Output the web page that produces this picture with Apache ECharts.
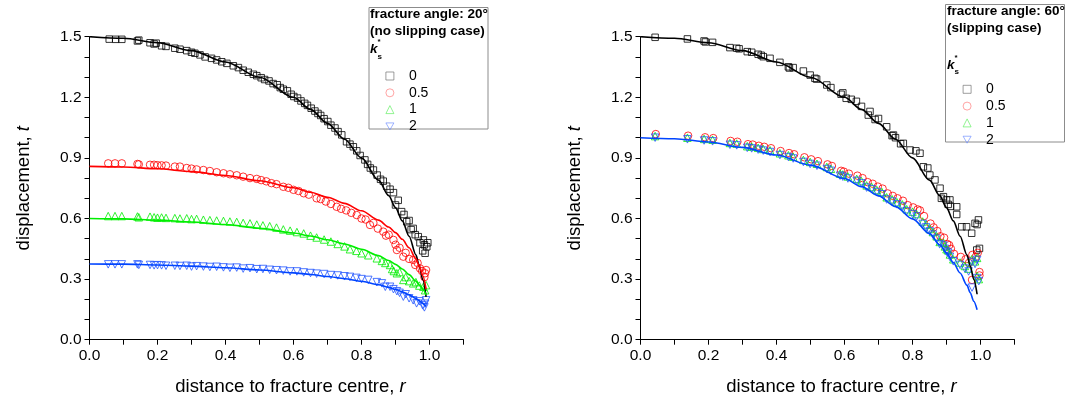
<!DOCTYPE html>
<html>
<head>
<meta charset="utf-8">
<script src="https://cdn.jsdelivr.net/npm/echarts@6/dist/echarts.min.js"></script>
<style>
  html, body { margin: 0; padding: 0; background: #fff; }
  #chart { width: 1079px; height: 404px; }
</style>
</head>
<body>
<div id="chart"></div>
<script>
// ---- data: [r, t] ----
var ksNames = ['0', '0.5', '1', '2'];
var xTicks = [0, 0.2, 0.4, 0.6, 0.8, 1.0];
var yTicks = [0, 0.3, 0.6, 0.9, 1.2, 1.5];

// left panel, fracture angle 20 deg
var leftK0 = [[0.058,1.488],[0.077,1.487],[0.095,1.487],[0.141,1.479],[0.145,1.483],[0.178,1.470],[0.190,1.464],[0.196,1.468],[0.212,1.455],[0.225,1.452],[0.251,1.443],[0.266,1.438],[0.286,1.431],[0.300,1.423],[0.310,1.418],[0.325,1.410],[0.340,1.400],[0.359,1.393],[0.374,1.385],[0.389,1.376],[0.404,1.368],[0.423,1.356],[0.438,1.347],[0.452,1.334],[0.467,1.324],[0.482,1.314],[0.492,1.307],[0.505,1.297],[0.515,1.288],[0.528,1.281],[0.540,1.268],[0.552,1.262],[0.561,1.248],[0.570,1.240],[0.582,1.232],[0.593,1.215],[0.601,1.204],[0.612,1.196],[0.622,1.182],[0.633,1.170],[0.641,1.160],[0.652,1.146],[0.663,1.132],[0.672,1.120],[0.680,1.110],[0.690,1.094],[0.701,1.080],[0.710,1.062],[0.722,1.048],[0.731,1.030],[0.742,1.014],[0.756,0.980],[0.766,0.968],[0.776,0.955],[0.786,0.935],[0.796,0.912],[0.810,0.890],[0.818,0.868],[0.826,0.850],[0.835,0.840],[0.846,0.815],[0.856,0.794],[0.864,0.785],[0.874,0.760],[0.884,0.745],[0.894,0.728],[0.900,0.667],[0.908,0.690],[0.918,0.634],[0.925,0.620],[0.933,0.584],[0.940,0.590],[0.946,0.545],[0.952,0.551],[0.958,0.520],[0.967,0.510],[0.972,0.480],[0.982,0.494],[0.985,0.470],[0.992,0.460],[0.987,0.428],[0.980,0.440],[0.995,0.480]];
var leftK05 = [[0.055,0.873],[0.075,0.873],[0.095,0.873],[0.141,0.870],[0.145,0.868],[0.178,0.866],[0.190,0.866],[0.200,0.864],[0.212,0.863],[0.225,0.862],[0.251,0.857],[0.266,0.857],[0.286,0.850],[0.300,0.847],[0.315,0.843],[0.335,0.840],[0.354,0.835],[0.374,0.829],[0.394,0.824],[0.413,0.819],[0.433,0.814],[0.452,0.807],[0.472,0.800],[0.492,0.796],[0.505,0.790],[0.520,0.784],[0.535,0.775],[0.550,0.770],[0.570,0.757],[0.585,0.752],[0.600,0.742],[0.615,0.736],[0.630,0.725],[0.645,0.718],[0.668,0.700],[0.680,0.696],[0.695,0.684],[0.710,0.672],[0.727,0.658],[0.740,0.648],[0.755,0.640],[0.770,0.628],[0.786,0.617],[0.800,0.600],[0.812,0.595],[0.825,0.568],[0.835,0.578],[0.848,0.550],[0.864,0.535],[0.872,0.515],[0.880,0.520],[0.894,0.494],[0.900,0.470],[0.904,0.444],[0.912,0.455],[0.923,0.411],[0.930,0.430],[0.940,0.400],[0.952,0.395],[0.958,0.370],[0.965,0.380],[0.972,0.353],[0.978,0.340],[0.987,0.329],[0.990,0.345],[0.985,0.310]];
var leftK1 = [[0.055,0.612],[0.075,0.612],[0.095,0.612],[0.141,0.610],[0.145,0.606],[0.178,0.609],[0.190,0.606],[0.200,0.604],[0.212,0.605],[0.225,0.603],[0.251,0.602],[0.266,0.600],[0.286,0.601],[0.300,0.597],[0.315,0.598],[0.335,0.594],[0.354,0.592],[0.374,0.590],[0.394,0.588],[0.413,0.585],[0.433,0.583],[0.452,0.578],[0.472,0.576],[0.492,0.570],[0.510,0.566],[0.530,0.562],[0.550,0.555],[0.570,0.546],[0.590,0.540],[0.610,0.533],[0.630,0.526],[0.650,0.515],[0.668,0.506],[0.690,0.496],[0.710,0.486],[0.730,0.474],[0.750,0.462],[0.766,0.448],[0.785,0.440],[0.800,0.428],[0.820,0.418],[0.845,0.403],[0.860,0.390],[0.870,0.380],[0.884,0.370],[0.890,0.350],[0.895,0.340],[0.904,0.329],[0.912,0.335],[0.923,0.296],[0.930,0.310],[0.940,0.290],[0.952,0.279],[0.960,0.285],[0.970,0.268],[0.982,0.262],[0.987,0.245],[0.990,0.270]];
var leftK2 = [[0.055,0.373],[0.075,0.373],[0.095,0.373],[0.141,0.373],[0.145,0.370],[0.178,0.370],[0.190,0.368],[0.200,0.369],[0.212,0.368],[0.225,0.366],[0.251,0.366],[0.266,0.365],[0.286,0.366],[0.300,0.362],[0.315,0.364],[0.335,0.362],[0.354,0.360],[0.374,0.361],[0.394,0.358],[0.413,0.356],[0.433,0.357],[0.452,0.352],[0.472,0.354],[0.492,0.349],[0.510,0.350],[0.530,0.346],[0.550,0.344],[0.570,0.342],[0.590,0.338],[0.610,0.338],[0.630,0.333],[0.650,0.330],[0.668,0.327],[0.690,0.325],[0.710,0.320],[0.730,0.318],[0.750,0.314],[0.766,0.311],[0.785,0.306],[0.800,0.300],[0.820,0.296],[0.845,0.285],[0.860,0.279],[0.870,0.262],[0.884,0.262],[0.894,0.250],[0.904,0.240],[0.912,0.232],[0.923,0.213],[0.930,0.225],[0.940,0.205],[0.952,0.195],[0.962,0.180],[0.970,0.190],[0.980,0.170],[0.987,0.178],[0.990,0.195],[0.985,0.160]];

var leftFit0 = [[0,1.5],[0.1,1.492],[0.2,1.470],[0.3,1.431],[0.4,1.375],[0.5,1.299],[0.6,1.200],[0.65,1.140],[0.7,1.071],[0.75,0.992],[0.8,0.900],[0.85,0.790],[0.88,0.713],[0.9,0.654],[0.92,0.588],[0.94,0.512],[0.96,0.420],[0.97,0.365],[0.98,0.298],[0.99,0.212]];
var leftFit05 = [[0,0.858],[0.1,0.855],[0.2,0.846],[0.3,0.832],[0.4,0.813],[0.5,0.787],[0.6,0.752],[0.65,0.730],[0.7,0.705],[0.75,0.675],[0.8,0.638],[0.85,0.592],[0.88,0.558],[0.9,0.530],[0.92,0.497],[0.94,0.455],[0.96,0.400],[0.97,0.365],[0.98,0.318],[0.99,0.250]];
var leftFit1 = [[0,0.600],[0.1,0.598],[0.2,0.592],[0.3,0.583],[0.4,0.570],[0.5,0.552],[0.6,0.528],[0.65,0.513],[0.7,0.495],[0.75,0.474],[0.8,0.448],[0.85,0.416],[0.88,0.392],[0.9,0.373],[0.92,0.350],[0.94,0.322],[0.96,0.290],[0.97,0.270],[0.98,0.250],[0.99,0.222]];
var leftFit2 = [[0,0.375],[0.1,0.374],[0.2,0.370],[0.3,0.364],[0.4,0.356],[0.5,0.345],[0.6,0.331],[0.65,0.323],[0.7,0.313],[0.75,0.302],[0.8,0.289],[0.85,0.272],[0.88,0.259],[0.9,0.249],[0.92,0.237],[0.94,0.222],[0.96,0.204],[0.97,0.193],[0.98,0.180],[0.99,0.165]];

// right panel, fracture angle 60 deg
var rightK0 = [[0.043,1.497],[0.138,1.489],[0.187,1.479],[0.191,1.474],[0.212,1.472],[0.263,1.446],[0.283,1.443],[0.290,1.440],[0.314,1.426],[0.327,1.423],[0.346,1.413],[0.355,1.408],[0.361,1.401],[0.381,1.393],[0.410,1.373],[0.435,1.351],[0.438,1.345],[0.449,1.347],[0.479,1.330],[0.499,1.310],[0.513,1.294],[0.518,1.290],[0.548,1.261],[0.560,1.248],[0.590,1.215],[0.595,1.222],[0.605,1.195],[0.620,1.190],[0.635,1.180],[0.650,1.155],[0.670,1.112],[0.675,1.130],[0.690,1.090],[0.700,1.095],[0.724,1.054],[0.740,1.010],[0.744,1.013],[0.750,1.000],[0.765,0.970],[0.773,0.972],[0.793,0.939],[0.810,0.935],[0.822,0.923],[0.832,0.856],[0.845,0.850],[0.851,0.815],[0.866,0.791],[0.881,0.750],[0.885,0.700],[0.891,0.708],[0.900,0.692],[0.905,0.670],[0.910,0.692],[0.912,0.660],[0.930,0.658],[0.930,0.620],[0.945,0.559],[0.959,0.559],[0.974,0.527],[0.984,0.576],[0.994,0.593],[0.990,0.570],[0.989,0.444],[0.997,0.452]];
var rightK05 = [[0.045,1.018],[0.140,1.010],[0.190,1.002],[0.214,0.998],[0.265,0.984],[0.285,0.980],[0.316,0.968],[0.330,0.966],[0.348,0.960],[0.364,0.955],[0.384,0.948],[0.412,0.934],[0.437,0.924],[0.452,0.918],[0.482,0.903],[0.502,0.893],[0.522,0.884],[0.550,0.868],[0.563,0.860],[0.590,0.836],[0.598,0.832],[0.613,0.822],[0.638,0.812],[0.653,0.800],[0.668,0.780],[0.683,0.772],[0.698,0.758],[0.712,0.748],[0.727,0.724],[0.742,0.712],[0.756,0.700],[0.772,0.688],[0.786,0.666],[0.802,0.655],[0.815,0.645],[0.822,0.640],[0.834,0.612],[0.853,0.575],[0.862,0.556],[0.873,0.538],[0.882,0.512],[0.893,0.505],[0.902,0.474],[0.908,0.468],[0.913,0.450],[0.922,0.425],[0.942,0.410],[0.956,0.398],[0.966,0.380],[0.976,0.420],[0.986,0.410],[0.992,0.430],[0.997,0.335],[0.997,0.318],[0.975,0.296]];
var rightK1 = [[0.043,1.008],[0.138,1.000],[0.187,0.994],[0.212,0.990],[0.263,0.974],[0.283,0.971],[0.314,0.958],[0.327,0.956],[0.346,0.950],[0.361,0.944],[0.381,0.938],[0.410,0.923],[0.435,0.913],[0.449,0.906],[0.479,0.890],[0.499,0.880],[0.519,0.871],[0.548,0.855],[0.560,0.846],[0.587,0.822],[0.595,0.818],[0.610,0.808],[0.636,0.796],[0.650,0.785],[0.665,0.764],[0.680,0.756],[0.695,0.741],[0.710,0.731],[0.724,0.705],[0.740,0.695],[0.754,0.681],[0.770,0.670],[0.783,0.646],[0.800,0.634],[0.812,0.622],[0.830,0.585],[0.840,0.570],[0.851,0.548],[0.860,0.533],[0.871,0.512],[0.880,0.484],[0.891,0.480],[0.895,0.462],[0.900,0.448],[0.905,0.442],[0.910,0.422],[0.920,0.398],[0.940,0.382],[0.954,0.365],[0.965,0.352],[0.974,0.398],[0.984,0.388],[0.990,0.405],[0.995,0.300],[0.990,0.315]];
var rightK2 = [[0.043,1.000],[0.138,0.992],[0.187,0.986],[0.212,0.982],[0.263,0.965],[0.283,0.962],[0.314,0.950],[0.327,0.947],[0.346,0.941],[0.361,0.936],[0.381,0.929],[0.410,0.914],[0.435,0.904],[0.449,0.897],[0.479,0.880],[0.499,0.870],[0.519,0.861],[0.548,0.845],[0.560,0.836],[0.587,0.812],[0.595,0.807],[0.610,0.798],[0.636,0.786],[0.650,0.774],[0.665,0.753],[0.680,0.745],[0.695,0.731],[0.710,0.720],[0.724,0.694],[0.740,0.684],[0.754,0.670],[0.770,0.659],[0.783,0.635],[0.800,0.622],[0.812,0.610],[0.830,0.573],[0.840,0.556],[0.851,0.536],[0.860,0.520],[0.871,0.500],[0.880,0.472],[0.891,0.466],[0.895,0.450],[0.900,0.436],[0.905,0.430],[0.910,0.410],[0.920,0.388],[0.940,0.370],[0.954,0.352],[0.965,0.338],[0.975,0.258],[0.974,0.385],[0.984,0.375],[0.990,0.395],[0.995,0.290],[0.990,0.305]];

var rightFit0 = [[0,1.5],[0.1,1.492],[0.2,1.470],[0.3,1.431],[0.4,1.375],[0.5,1.299],[0.6,1.200],[0.65,1.140],[0.7,1.071],[0.75,0.992],[0.8,0.900],[0.85,0.790],[0.88,0.713],[0.9,0.654],[0.92,0.588],[0.94,0.512],[0.96,0.420],[0.97,0.365],[0.98,0.300],[0.99,0.225]];
var rightFit2 = [[0,1.0],[0.1,0.995],[0.2,0.979],[0.3,0.952],[0.4,0.914],[0.5,0.864],[0.6,0.798],[0.65,0.758],[0.7,0.712],[0.75,0.659],[0.8,0.598],[0.85,0.525],[0.88,0.470],[0.9,0.430],[0.92,0.382],[0.94,0.330],[0.96,0.270],[0.97,0.232],[0.98,0.190],[0.99,0.148]];

// ---- styles ----
var FONT = '"Liberation Sans", Arial, sans-serif';
var colors = { '0': '#000000', '0.5': '#ff0000', '1': '#00ee00', '2': '#2255ff' };
var legendColors = { '0': '#666666', '0.5': '#ff7070', '1': '#55ee55', '2': '#6688ff' };
var lineColors = { '0': '#000000', '0.5': '#ff0000', '1': '#00ee00', '2': '#0044ff' };
var symbols = { '0': 'rect', '0.5': 'circle', '1': 'triangle', '2': 'path://M0,0L10,0L5,8.7Z' };
var sizes = { '0': 6.5, '0.5': 7.5, '1': 7.5, '2': 7.5 };

function scatter(name, data, idx) {
    return {
        name: name, type: 'scatter', xAxisIndex: idx, yAxisIndex: idx,
        data: data, symbol: symbols[name], symbolSize: sizes[name],
        itemStyle: { color: 'rgba(0,0,0,0)', borderColor: colors[name], borderWidth: 1 },
        silent: true
    };
}
function fit(name, data, idx) {
    return {
        name: 'fit ' + name, type: 'line', xAxisIndex: idx, yAxisIndex: idx,
        data: data, showSymbol: false, smooth: 0.3, smoothMonotone: 'x',
        lineStyle: { color: lineColors[name], width: 1.6 }, silent: true, z: 3
    };
}

function xAxis(idx) {
    return {
        type: 'value', gridIndex: idx, min: 0, max: 1.1, interval: 0.1,
        axisLine: { onZero: false, lineStyle: { color: '#000', width: 1 } },
        axisTick: { length: 5, lineStyle: { color: '#000' } },
        splitLine: { show: false },
        axisLabel: {
            color: '#000', fontSize: 15.5, fontFamily: FONT, margin: 8,
            formatter: function (v) {
                var k = Math.round(v * 10);
                return xTicks.indexOf(k / 10) >= 0 ? (k / 10).toFixed(1) : '';
            }
        },
        name: '{a|distance to fracture centre, }{b|r}', nameLocation: 'middle', nameGap: 38,
        nameTextStyle: {
            padding: [0, 0, 0, 28],
            rich: {
                a: { fontSize: 18.5, fontFamily: FONT, color: '#000' },
                b: { fontSize: 18.5, fontFamily: FONT, fontStyle: 'italic', color: '#000' }
            }
        }
    };
}
function yAxis(idx) {
    return {
        type: 'value', gridIndex: idx, min: 0, max: 1.5, interval: 0.1,
        axisLine: { show: true, onZero: false, lineStyle: { color: '#000', width: 1 } },
        axisTick: { show: true, length: 5, lineStyle: { color: '#000' } },
        splitLine: { show: false },
        axisLabel: {
            color: '#000', fontSize: 15.5, fontFamily: FONT, margin: 8,
            formatter: function (v) {
                var k = Math.round(v * 10);
                return yTicks.indexOf(k / 10) >= 0 ? (k / 10).toFixed(1) : '';
            }
        },
        name: '{a|displacement, }{b|t}', nameLocation: 'middle', nameGap: 56,
        nameTextStyle: {
            rich: {
                a: { fontSize: 18.5, fontFamily: FONT, color: '#000' },
                b: { fontSize: 18.5, fontFamily: FONT, fontStyle: 'italic', color: '#000' }
            }
        }
    };
}

function legend(left, top) {
    return {
        data: ksNames.map(function (n) {
            return {
                name: n, icon: symbols[n],
                itemStyle: { color: 'rgba(0,0,0,0)', borderColor: legendColors[n], borderWidth: 0.8 }
            };
        }),
        orient: 'vertical', left: left, top: top,
        itemWidth: 8, itemHeight: 8, itemGap: 2.8, selectedMode: false,
        textStyle: { fontSize: 14, fontFamily: FONT, color: '#000', lineHeight: 14, padding: [0, 0, 0, 10] }
    };
}

function txt(x, y, s, size, weight, style) {
    return {
        type: 'text', left: x, top: y,
        style: { text: s, font: (style || 'normal') + ' ' + (weight || 'normal') + ' ' + size + 'px ' + FONT, fill: '#000' }
    };
}

var chart = echarts.init(document.getElementById('chart'));
var option = {
    animation: false,
    textStyle: { fontFamily: FONT },
    grid: [
        { left: 89.5, top: 36.7, width: 374, height: 303 },
        { left: 640.5, top: 36.7, width: 374, height: 303 }
    ],
    xAxis: [xAxis(0), xAxis(1)],
    yAxis: [yAxis(0), yAxis(1)],
    legend: [legend(380.5, 64), legend(957.7, 77.3)],
    graphic: [
        { type: 'rect', shape: { x: 369, y: 7.5, width: 119, height: 121.5 }, style: { fill: 'none', stroke: '#8c8c8c', lineWidth: 1 } },
        txt(370, 7, 'fracture angle: 20°', 13.5, 'bold'),
        txt(370, 24, '(no slipping case)', 13.5, 'bold'),
        txt(370, 42, 'k', 13.5, 'bold', 'italic'),
        txt(377.5, 53, 's', 8, 'bold'),
        txt(377.5, 38, '*', 8, 'bold'),
        { type: 'rect', shape: { x: 945.5, y: 4.5, width: 119, height: 137.5 }, style: { fill: 'none', stroke: '#8c8c8c', lineWidth: 1 } },
        txt(947, 4, 'fracture angle: 60°', 13.5, 'bold'),
        txt(947, 21, '(slipping case)', 13.5, 'bold'),
        txt(947, 58, 'k', 13.5, 'bold', 'italic'),
        txt(954.5, 68, 's', 8, 'bold'),
        txt(954.5, 54, '*', 8, 'bold')
    ],
    series: [
        scatter('0', leftK0, 0), scatter('0.5', leftK05, 0), scatter('1', leftK1, 0), scatter('2', leftK2, 0),
        fit('0', leftFit0, 0), fit('0.5', leftFit05, 0), fit('1', leftFit1, 0), fit('2', leftFit2, 0),
        scatter('0', rightK0, 1), scatter('0.5', rightK05, 1), scatter('1', rightK1, 1), scatter('2', rightK2, 1),
        fit('0', rightFit0, 1), fit('2', rightFit2, 1)
    ]
};
chart.setOption(option);
</script>
</body>
</html>
